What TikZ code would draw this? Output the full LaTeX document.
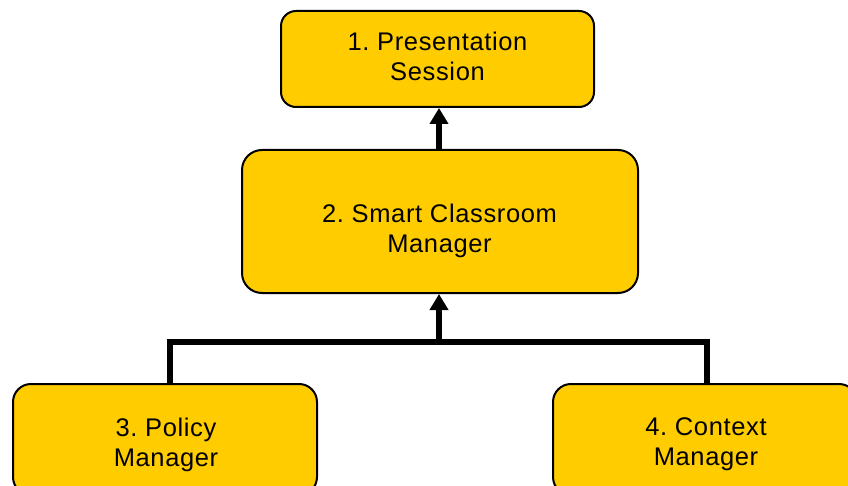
\documentclass[tikz,border=0pt]{standalone}
\usepackage{fontspec}
\setmainfont[LetterSpace=2.5]{Liberation Sans}
\usetikzlibrary{arrows.meta}
\definecolor{boxfill}{HTML}{FFCC00}
\tikzset{
  box/.style={draw=black, line width=2pt, fill=boxfill, rectangle, inner sep=0pt},
  txt/.style={align=center, inner sep=0pt, font=\fontsize{25.5}{30}\selectfont\frenchspacing},
  conn/.style={draw=black, line width=5.5pt, line join=miter},
  arr/.style={conn, -{Triangle[width=18pt,length=16pt]}}
}
\begin{document}
\begin{tikzpicture}[x=1pt,y=-1pt]
\useasboundingbox (0,0) rectangle (848,486);
\clip (0,0) rectangle (848,486);
% boxes
\node[box, rounded corners=15pt, minimum width=313pt, minimum height=96pt] (b1) at (437.5,59) {};
\node[box, rounded corners=20pt, minimum width=396pt, minimum height=143pt] (b2) at (440,221.5) {};
\node[box, rounded corners=18pt, minimum width=304pt, minimum height=111pt] (b3) at (165,439.5) {};
\node[box, rounded corners=18pt, minimum width=304pt, minimum height=111pt] (b4) at (705,439.5) {};
% texts
\node[txt] (t1) at (437.5,56.7) {1. Presentation\\Session};
\node[txt] (t2) at (439.5,230.5) {2. Smart Classroom\\Manager};
\node[txt] (t3) at (166,444.7) {3. Policy\\Manager};
\node[txt] (t4) at (706,444.7) {4. Context\\Manager};
% connectors
\coordinate (jl) at (170,342);
\coordinate (jr) at (707,342);
\coordinate (j) at (439,342);
\draw[conn] ([xshift=5pt]b3.north) -- (jl) -- (jr) -- ([xshift=2pt]b4.north);
\draw[arr] (j) -- (j |- b2.south);
\draw[arr] (b2.north -| j) -- (j |- b1.south);
\end{tikzpicture}
\end{document}
